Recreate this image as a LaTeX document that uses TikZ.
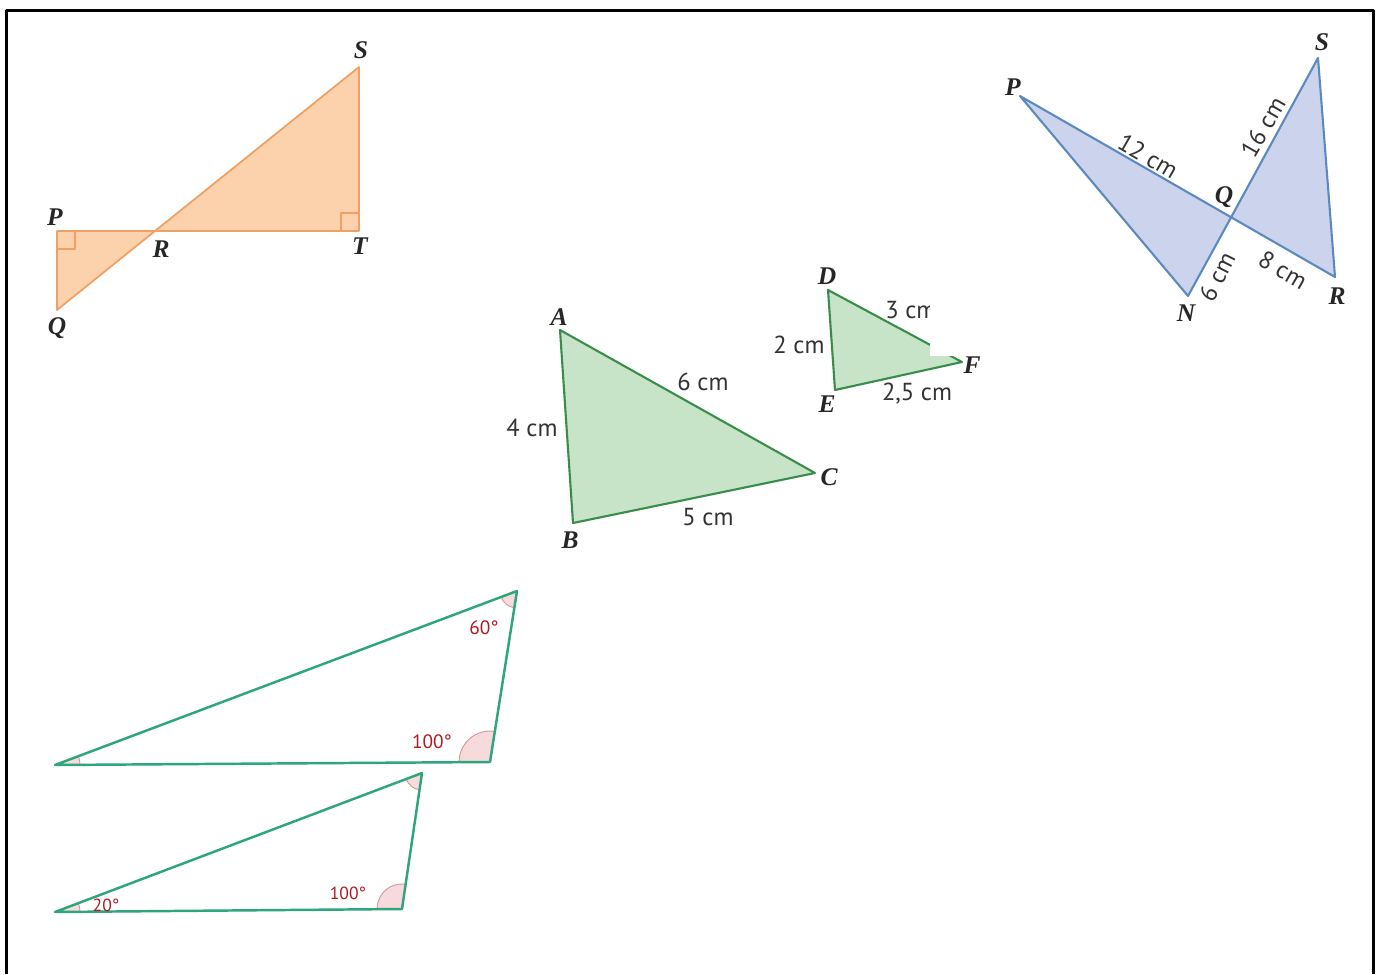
\documentclass[tikz,border=0pt]{standalone}
\usepackage{fontspec}
\setmainfont{PT Sans}
\newfontfamily\vtxfont{Liberation Serif}
\usetikzlibrary{angles}

\definecolor{orgline}{RGB}{240,160,100}
\definecolor{orgfill}{RGB}{251,210,172}
\definecolor{bluline}{RGB}{92,138,190}
\definecolor{blufill}{RGB}{203,212,236}
\definecolor{grnline}{RGB}{58,140,75}
\definecolor{grnfill}{RGB}{200,228,200}
\definecolor{tealine}{RGB}{45,165,125}
\definecolor{angred}{RGB}{175,25,35}
\definecolor{angfill}{RGB}{246,218,220}
\definecolor{angline}{RGB}{205,150,155}

\tikzset{
  vtx/.style={font=\vtxfont\bfseries\itshape\fontsize{14.5}{16}\selectfont,inner sep=0pt,text=black!85},
  len/.style={font=\fontsize{14}{16}\selectfont,inner sep=0pt,text=black!80},
  angtxt/.style={font=\fontsize{11}{13}\selectfont,inner sep=0pt,text=angred},
  angsmall/.style={font=\fontsize{10}{12}\selectfont,inner sep=0pt,text=angred},
  orgshape/.style={draw=orgline,fill=orgfill,line width=1pt},
  blushape/.style={draw=bluline,fill=blufill,line width=1.2pt},
  grnshape/.style={draw=grnline,fill=grnfill,line width=1.2pt},
  teashape/.style={draw=tealine,line width=1.4pt},
  angmark/.style={draw=angline,fill=angfill,line width=0.5pt}
}

\begin{document}
\begin{tikzpicture}[x=0.02cm,y=-0.02cm,line join=round]
  \useasboundingbox (0,0) rectangle (1376,974);
  % frame
  \draw[line width=1.7pt] (6.5,974) -- (6.5,10.5) -- (1373.5,10.5) -- (1373.5,974);

  % orange figure
  \coordinate (oP) at (57,231);
  \coordinate (oQ) at (57,310);
  \coordinate (oR) at (155,231);
  \coordinate (oT) at (359,231);
  \coordinate (oS) at (359,67);
  \filldraw[orgshape] (oP) -- (oQ) -- (oR) -- cycle;
  \filldraw[orgshape] (oR) -- (oT) -- (oS) -- cycle;
  \draw[orgline,line width=0.8pt] ([shift={(0,18)}]oP) -| ([shift={(18,0)}]oP);
  \draw[orgline,line width=0.8pt] ([shift={(-18,0)}]oT) |- ([shift={(0,-18)}]oT);
  \node[vtx] (lbloP) at (55,217) {P};
  \node[vtx] (lbloQ) at (57,328) {Q};
  \node[vtx] (lbloR) at (161,249) {R};
  \node[vtx] (lbloT) at (360,246) {T};
  \node[vtx] (lbloS) at (361,50) {S};

  % blue figure
  \coordinate (bP) at (1020,96);
  \coordinate (bS) at (1318,58);
  \coordinate (bR) at (1335,277);
  \coordinate (bN) at (1188,296);
  \coordinate (bQ) at (intersection of bP--bR and bS--bN);
  \filldraw[blushape] (bP) -- (bQ) -- (bN) -- cycle;
  \filldraw[blushape] (bQ) -- (bS) -- (bR) -- cycle;
  \node[vtx] (lblbP) at (1013,87) {P};
  \node[vtx] (lblbS) at (1322,42) {S};
  \node[vtx] (lblbQ) at (1224,197) {Q};
  \node[vtx] (lblbR) at (1337,296) {R};
  \node[vtx] (lblbN) at (1186,313) {N};
  \node[len,rotate=-30] (lenPQ) at (1148,156) {12 cm};
  \node[len,rotate=60] (lenQS) at (1263,127) {16 cm};
  \node[len,rotate=-30] (lenQR) at (1283,270) {8 cm};
  \node[len,rotate=63] (lenQN) at (1217,277) {6 cm};

  % green triangles
  \coordinate (A) at (560,330);
  \coordinate (B) at (573,523);
  \coordinate (C) at (815,473);
  \filldraw[grnshape] (A) -- (B) -- (C) -- cycle;
  \node[vtx] (lblA) at (559,317) {A};
  \node[vtx] (lblB) at (570,540) {B};
  \node[vtx] (lblC) at (829,477) {C};
  \node[len] (lenAB) at (532,428) {4 cm};
  \node[len] (lenAC) at (703,382) {6 cm};
  \node[len] (lenBC) at (708,517) {5 cm};

  \coordinate (D) at (828,290);
  \coordinate (E) at (835,390);
  \coordinate (F) at (962,362);
  \filldraw[grnshape] (D) -- (E) -- (F) -- cycle;
  \node[vtx] (lblD) at (827,276) {D};
  \node[vtx] (lblE) at (827,404) {E};
  \node[len] (lenDE) at (799,345) {2 cm};
  \node[len,anchor=west] (lenDF) at (885,310) {3 cm};
  \node[len] (lenEF) at (917,394) {2,5 cm};
  \fill[white] (930,292) rectangle (1000,356);
  \node[vtx] (lblF) at (972,365) {F};

  % angle triangles
  \coordinate (tL) at (55,765);
  \coordinate (tT) at (517,591);
  \coordinate (tR) at (490,762);
  \pic[angmark,angle radius=0.34cm] {angle=tL--tT--tR};
  \pic[angmark,angle radius=0.62cm] {angle=tT--tR--tL};
  \pic[angmark,angle radius=0.5cm] {angle=tR--tL--tT};
  \draw[teashape] (tL) -- (tT) -- (tR) -- cycle;
  \node[angtxt] (angT) at (484,628) {60°};
  \node[angtxt] (angR) at (432,742) {100°};

  \coordinate (uL) at (55,912);
  \coordinate (uT) at (422,773);
  \coordinate (uR) at (402,909);
  \pic[angmark,angle radius=0.34cm] {angle=uL--uT--uR};
  \pic[angmark,angle radius=0.5cm] {angle=uT--uR--uL};
  \pic[angmark,angle radius=0.5cm] {angle=uR--uL--uT};
  \draw[teashape] (uL) -- (uT) -- (uR) -- cycle;
  \node[angsmall] (angL2) at (106,905) {20°};
  \node[angsmall] (angR2) at (348,893) {100°};
\end{tikzpicture}
\end{document}
